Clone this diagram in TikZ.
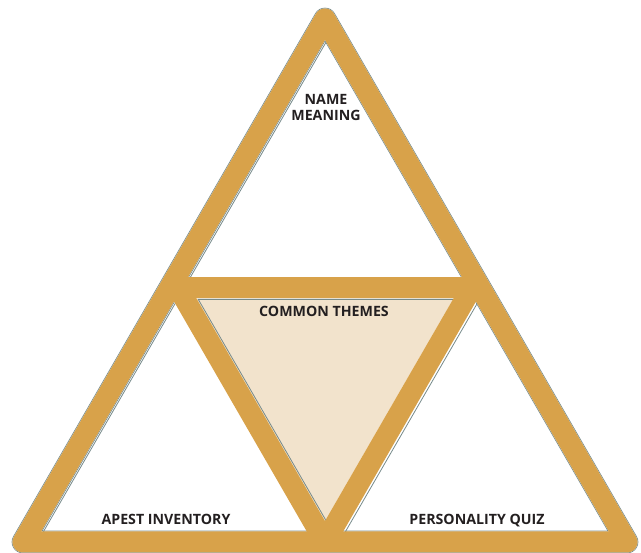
\documentclass[tikz,border=0pt]{standalone}
\usepackage{fontspec}
\setmainfont{Open Sans}
\definecolor{gold}{RGB}{216,162,74}
\definecolor{beige}{RGB}{242,227,204}
\definecolor{edgegray}{RGB}{118,138,138}
\definecolor{txt}{RGB}{35,31,32}
\tikzset{
  band/.style={draw=gold, line width=21pt, line cap=butt},
  outerband/.style={band, line join=round},
  holeline/.style={draw=edgegray, line width=0.8pt, line join=miter},
  lbl/.style={font=\bfseries\fontsize{14.2}{16}\selectfont, text=txt, anchor=base, inner sep=0pt, align=center}
}
\begin{document}
\begin{tikzpicture}[x=1pt,y=-1pt]
\useasboundingbox (0,0) rectangle (641,553);
% centre lines of the gold bands
\coordinate (A) at (325,19);
\coordinate (L) at (23,542);
\coordinate (R) at (627,542);
\coordinate (B) at (325,542);
\coordinate (P) at (178.35,288);
\coordinate (Q) at (471.65,288);
\coordinate (HL) at (169.7,288);
\coordinate (HR) at (480.3,288);
% shifted grey outline of the outer edge
\begin{scope}[shift={(1.8,0.9)}]
  \draw[draw=edgegray, line width=22.6pt, line join=round] (A) -- (L) -- (R) -- cycle;
  \draw[draw=white, line width=21pt, line join=round] (A) -- (L) -- (R) -- cycle;
\end{scope}
% beige centre
\fill[beige] (196.5,298.5) -- (453.5,298.5) -- (325,521) -- cycle;
% shifted grey outlines of the openings
\begin{scope}[shift={(1.8,0.9)}]
  \draw[holeline] (325,40) -- (187.9,277.5) -- (462.1,277.5) -- cycle;
  \draw[holeline] (174.0,301.5) -- (41.2,531.5) -- (306.8,531.5) -- cycle;
  \draw[holeline] (476.0,301.5) -- (343.2,531.5) -- (608.8,531.5) -- cycle;
  \draw[holeline] (196.5,298.5) -- (453.5,298.5) -- (325,521) -- cycle;
\end{scope}
% gold frame
\draw[outerband] (A) -- (L) -- (R) -- cycle;
\draw[band] (HL) -- (HR);
\draw[band] (P) -- (B);
\draw[band] (Q) -- (B);
% labels
\node[lbl] (name) at (326,121) {NAME\\MEANING};
\node[lbl] (common) at (324,317) {COMMON THEMES};
\node[lbl] (apest) at (166,525) {APEST INVENTORY};
\node[lbl] (quiz) at (477,525) {PERSONALITY QUIZ};
\end{tikzpicture}
\end{document}
